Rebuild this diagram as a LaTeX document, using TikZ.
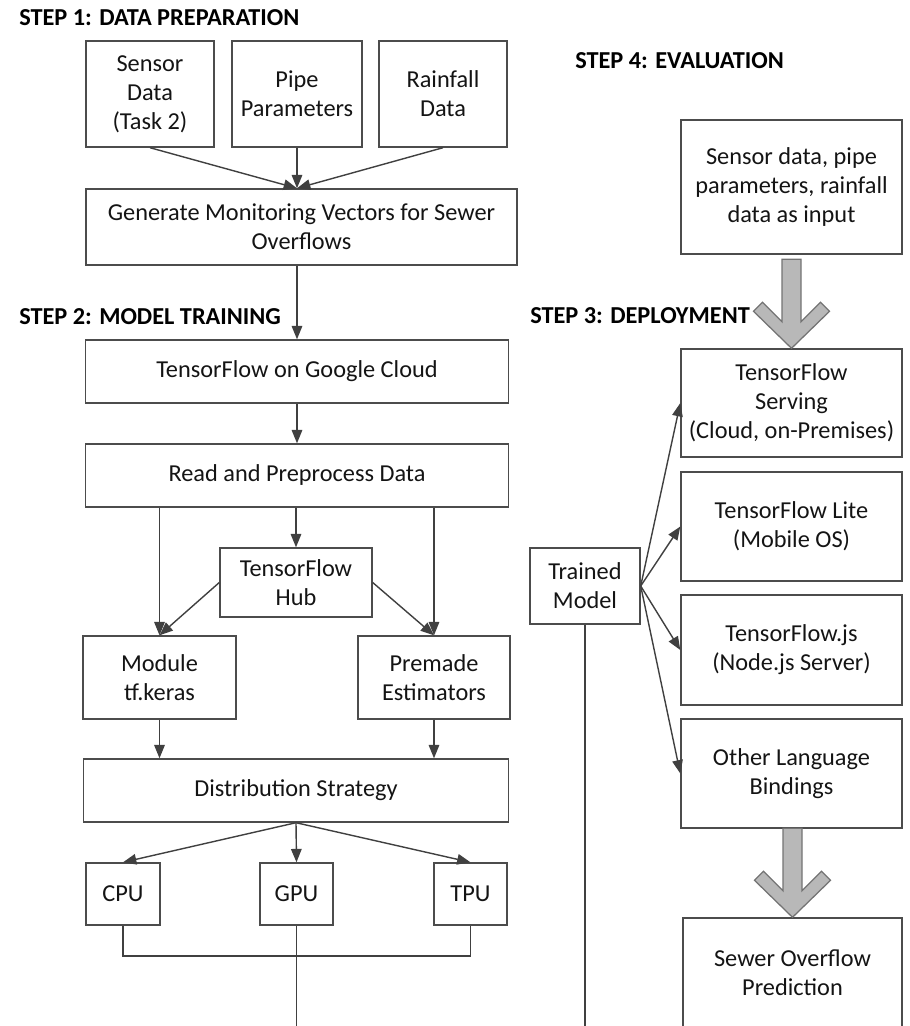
\documentclass[tikz,border=0pt]{standalone}
\usepackage{fontspec}
\setmainfont{Carlito}
\usetikzlibrary{arrows.meta}

\newlength{\pxu}
\setlength{\pxu}{0.025cm}

\begin{document}
\begin{tikzpicture}[x=0.025cm, y=-0.025cm, >={Triangle[length=9.5pt, width=7.5pt]}]

\tikzset{
  block/.style={
    rectangle, draw=black!70, line width=1pt,
    align=center, inner sep=0pt, text=black!92,
    font=\fontsize{17.3pt}{20.6pt}\selectfont
  },
  boxsize/.style 2 args={minimum width=#1\pxu, minimum height=#2\pxu},
  steplabel/.style={anchor=base west, inner sep=0pt,
    font=\fontsize{17.3pt}{20.6pt}\selectfont\bfseries},
  arrow/.style={->, draw=black!75, line width=1pt},
  line/.style={draw=black!75, line width=1pt},
  bigarrow/.style={draw=black!55, fill=black!28, line width=0.9pt}
}

\useasboundingbox (0,0) rectangle (909,1026);
\clip (0,0) rectangle (909,1026);

% =========================================================
% Step 1: data preparation
% =========================================================
\node[steplabel] (s1) at (19,25) {STEP 1: DATA PREPARATION};
\node[block, boxsize={128}{106}] (sensor) at (150,94)  {Sensor\\Data\\(Task 2)};
\node[block, boxsize={130}{106}] (pipe)   at (297,94)  {Pipe\\Parameters};
\node[block, boxsize={128}{106}] (rain)   at (443,94)  {Rainfall\\Data};
\node[block, boxsize={431}{76}]  (gen)    at (301.5,227)
  {Generate Monitoring Vectors for Sewer\\Overflows};

\draw[arrow] (sensor.south) -- (pipe.south |- gen.north);
\draw[arrow] (pipe.south) -- (pipe.south |- gen.north);
\draw[arrow] (rain.south) -- (pipe.south |- gen.north);

% =========================================================
% Step 2: model training
% =========================================================
\node[steplabel] (s2) at (19,324) {STEP 2: MODEL TRAINING};
\node[block, boxsize={423}{63}] (cloud)   at (297,371.5) {TensorFlow on Google Cloud};
\node[block, boxsize={423}{63}] (read)    at (297,475.5) {Read and Preprocess Data};
\node[block, boxsize={152}{69}] (hub)     at (296,582.5) {TensorFlow\\Hub};
\node[block, boxsize={153}{83}] (keras)   at (159.5,677.5) {Module\\tf.keras};
\node[block, boxsize={152}{83}] (premade) at (434,677.5) {Premade\\Estimators};
\node[block, boxsize={425}{63}] (dist)    at (296,790.5) {Distribution Strategy};
\node[block, boxsize={74}{62}]  (cpu)     at (123,894)   {CPU};
\node[block, boxsize={73}{62}]  (gpu)     at (296.5,894) {GPU};
\node[block, boxsize={73}{62}]  (tpu)     at (470.5,894) {TPU};

\draw[arrow] (gen.south -| cloud.north) -- (cloud.north);
\draw[arrow] (cloud) -- (read);
\draw[arrow] (read.south -| hub.north) -- (hub.north);
\draw[arrow] (read.south -| keras.north) -- (keras.north);
\draw[arrow] (read.south -| premade.north) -- (premade.north);
\draw[arrow] (hub.west) -- (keras.north);
\draw[arrow] (hub.east) -- (premade.north);
\draw[arrow] (keras.south) -- (keras.south |- dist.north);
\draw[arrow] (premade.south) -- (premade.south |- dist.north);
\draw[arrow] (dist.south) -- (cpu.north);
\draw[arrow] (dist.south) -- (gpu.north);
\draw[arrow] (dist.south) -- (tpu.north);

% hardware outputs join and run off the bottom
\coordinate (join)   at (296.5,956);
\coordinate (gpuout) at (296.5,1040);
\draw[line] (cpu.south) |- (join) -| (tpu.south);
\draw[line] (gpu.south) -- (gpuout);

% =========================================================
% Steps 3 and 4: deployment and evaluation
% =========================================================
\node[steplabel] (s4) at (575,68) {STEP 4: EVALUATION};
\node[block, boxsize={221}{134}] (input) at (791.5,187)
  {Sensor data, pipe\\parameters, rainfall\\data as input};

\node[steplabel] (s3) at (530,323) {STEP 3: DEPLOYMENT};
\node[block, boxsize={221}{108}] (serving) at (791.5,403)   {TensorFlow\\Serving\\(Cloud, on-Premises)};
\node[block, boxsize={221}{109}] (lite)    at (791.5,526.5) {TensorFlow Lite\\(Mobile OS)};
\node[block, boxsize={221}{110}] (tfjs)    at (791.5,650)   {TensorFlow.js\\(Node.js Server)};
\node[block, boxsize={221}{109}] (other)   at (791.5,773.5) {Other Language\\Bindings};
\node[block, boxsize={219}{110}] (sewer)   at (792.5,973)   {Sewer Overflow\\Prediction};
\node[block, boxsize={110}{76}]  (model)   at (585,586)     {Trained\\Model};

\foreach \t in {serving,lite,tfjs,other}
  \draw[arrow] (model.east) -- (\t.west);

\coordinate (modelout) at (585,1040);
\draw[line] (model.south) -- (modelout);

% wide grey chevron arrows
\foreach \b in {serving,sewer}
  \draw[bigarrow, shift={(\b.north)}]
    (0,0) -- (-38,-37) -- (-29,-46) -- (-9.5,-26.5) -- (-9.5,-89)
    -- (9.5,-89) -- (9.5,-26.5) -- (29,-46) -- (38,-37) -- cycle;

\end{tikzpicture}
\end{document}
